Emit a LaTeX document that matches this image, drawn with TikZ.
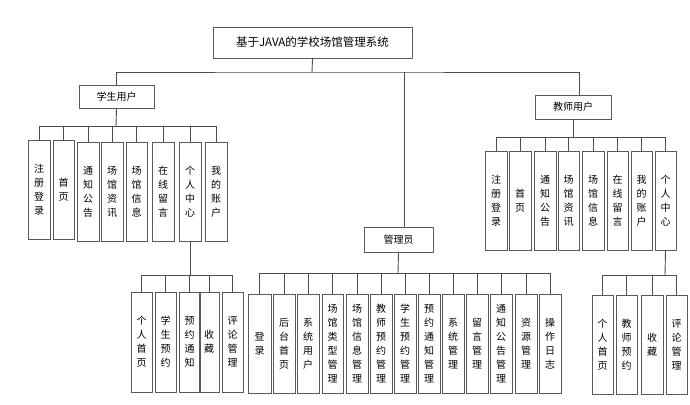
\documentclass[tikz,border=0pt]{standalone}
\usepackage{fontspec}
\newfontfamily\cjk{Noto Sans CJK SC}
\begin{document}
\begin{tikzpicture}[x=1pt,y=-1pt,
  bx/.style={draw=black!65, line width=0.9pt, inner sep=0pt, align=center,
    font=\cjk\fontsize{10}{14}\selectfont},
  ln/.style={draw=black!70, line width=0.9pt}]
\useasboundingbox[fill=white] (0,0) rectangle (690,404);
% helper macro: \bb{name}{x1}{y1}{x2}{y2}{text}
\newcommand\bb[6]{\node[bx, minimum width=#4-#2, minimum height=#5-#3] (#1) at ({(#2+#4)/2},{(#3+#5)/2}) {#6};}
\bb{root}{213}{27}{412}{58}{\fontsize{11.5}{13}\selectfont 基于JAVA的学校场馆管理系统}
\bb{stu}{79}{85}{154}{108}{学生用户}
\bb{tea}{535}{95}{611}{119}{教师用户}
\bb{adm}{364}{227}{433}{252}{管理员}
% student children
\bb{s1}{28}{140}{50}{239}{注\\册\\登\\录}
\bb{s2}{53}{140}{74}{239}{首\\页}
\bb{s3}{77}{142}{99}{241}{通\\知\\公\\告}
\bb{s4}{101}{142}{123}{241}{场\\馆\\资\\讯}
\bb{s5}{126}{142}{147}{241}{场\\馆\\信\\息}
\bb{s6}{152}{142}{174}{241}{在\\线\\留\\言}
\bb{s7}{179}{142}{201}{241}{个\\人\\中\\心}
\bb{s8}{205}{142}{227}{241}{我\\的\\账\\户}
% student personal center children
\bb{p1}{131}{292}{152}{392}{个\\人\\首\\页}
\bb{p2}{155}{292}{176}{392}{学\\生\\预\\约}
\bb{p3}{179}{292}{200}{392}{预\\约\\通\\知}
\bb{p4}{199}{292}{219}{392}{收\\藏}
\bb{p5}{222}{292}{243}{392}{评\\论\\管\\理}
% admin children
\bb{a1}{248}{294}{271}{393}{登\\录}
\bb{a2}{273}{294}{295}{393}{后\\台\\首\\页}
\bb{a3}{297}{294}{319}{393}{系\\统\\用\\户}
\bb{a4}{322}{294}{343}{393}{场\\馆\\类\\型\\管\\理}
\bb{a5}{346}{294}{368}{393}{场\\馆\\信\\息\\管\\理}
\bb{a6}{370}{294}{392}{393}{教\\师\\预\\约\\管\\理}
\bb{a7}{394}{294}{416}{393}{学\\生\\预\\约\\管\\理}
\bb{a8}{418}{294}{440}{393}{预\\约\\通\\知\\管\\理}
\bb{a9}{442}{294}{464}{393}{系\\统\\管\\理}
\bb{a10}{466}{294}{488}{393}{留\\言\\管\\理}
\bb{a11}{490}{294}{512}{393}{通\\知\\公\\告\\管\\理}
\bb{a12}{515}{294}{537}{393}{资\\源\\管\\理}
\bb{a13}{539}{294}{561}{393}{操\\作\\日\\志}
% teacher children
\bb{t1}{485}{151}{507}{250}{注\\册\\登\\录}
\bb{t2}{509}{151}{531}{250}{首\\页}
\bb{t3}{534}{151}{556}{250}{通\\知\\公\\告}
\bb{t4}{558}{151}{579}{250}{场\\馆\\资\\讯}
\bb{t5}{582}{151}{604}{250}{场\\馆\\信\\息}
\bb{t6}{607}{151}{628}{250}{在\\线\\留\\言}
\bb{t7}{631}{151}{652}{250}{我\\的\\账\\户}
\bb{t8}{655}{151}{676}{250}{个\\人\\中\\心}
% teacher personal center children
\bb{q1}{592}{295}{613}{394}{个\\人\\首\\页}
\bb{q2}{616}{295}{637}{394}{教\\师\\预\\约}
\bb{q3}{641}{295}{663}{394}{收\\藏}
\bb{q4}{666}{295}{687}{394}{评\\论\\管\\理}
% buses
\coordinate (rb) at (312,72);
\coordinate (sb) at (116,126);
\coordinate (pb) at (190,275);
\coordinate (ab) at (398,273);
\coordinate (tb) at (573,137);
\coordinate (qb) at (665,275);
% connectors
\draw[ln] (root.south) -- (rb);
\draw[ln] (stu.north) |- (rb) -| ([xshift=6]tea.north);
\draw[ln] ([xshift=6]adm.north) -- ([xshift=6]adm.north |- rb);
\draw[ln] (stu.south) -- (sb);
\foreach \c in {s1,s2,s3,s4,s5,s6,s7,s8} \draw[ln] (\c.north) |- (sb);
\draw[ln] (s7.south) -- (pb);
\foreach \c in {p1,p2,p3,p4,p5} \draw[ln] (\c.north) |- (pb);
\draw[ln] (adm.south) -- (ab);
\foreach \c in {a1,a2,a3,a4,a5,a6,a7,a8,a9,a10,a11,a12,a13} \draw[ln] (\c.north) |- (ab);
\draw[ln] (tea.south) -- (tb);
\foreach \c in {t1,t2,t3,t4,t5,t6,t7,t8} \draw[ln] (\c.north) |- (tb);
\draw[ln] (t8.south) -- (qb);
\foreach \c in {q1,q2,q3,q4} \draw[ln] (\c.north) |- (qb);
\end{tikzpicture}
\end{document}
